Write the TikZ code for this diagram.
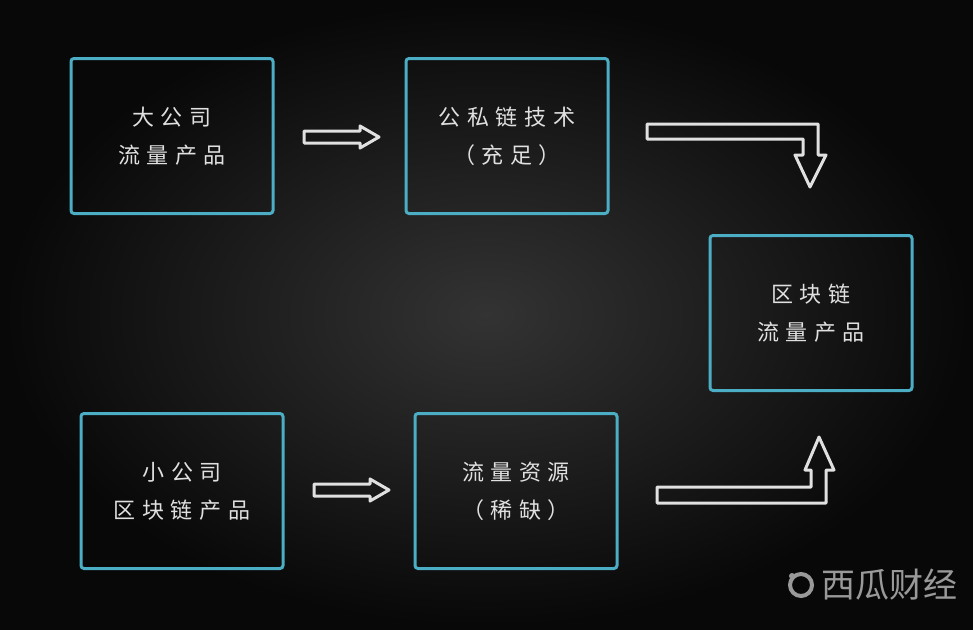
\documentclass[tikz,border=0pt]{standalone}
\usepackage{fontspec}
\newfontfamily\cjk[LetterSpace=30]{Noto Sans CJK SC}
\newfontfamily\cjkw{Noto Sans CJK SC}
\begin{document}
\begin{tikzpicture}[x=1pt,y=-1pt,
  box/.style={draw=boxc,line width=3pt,rounded corners=3pt,minimum width=202pt,minimum height=155pt,inner sep=0pt,
    text=white!88!black,font=\cjk\fontsize{22}{38}\selectfont,align=center},
  outl/.style={draw=white!88!black,line width=3pt,line join=round}]
\definecolor{boxc}{HTML}{4CAEC4}
\shade[inner color=black!80,outer color=black!97] (0,0) rectangle (973,629);
\useasboundingbox (0,0) rectangle (973,629);
\node[box] (a) at (172,136) {大公司\\流量产品};
\node[box] (b) at (507,136) {公私链技术\\（充足）};
\node[box] (c) at (811,313) {区块链\\流量产品};
\node[box] (d) at (182,491) {小公司\\区块链产品};
\node[box] (e) at (516,491) {流量资源\\（稀缺）};
% straight arrows
\draw[outl] (304,131)--(360,131)--(360,126)--(379,137)--(360,148)--(360,143)--(304,143)--cycle;
\draw[outl] (314,484)--(370,484)--(370,479)--(389,490)--(370,501)--(370,496)--(314,496)--cycle;
% bent arrows
\draw[outl] (647,124)--(818,124)--(818,155)--(826,155)--(810,187)--(795,155)--(803,155)--(803,139)--(647,139)--cycle;
\draw[outl] (657,503)--(826,503)--(826,470)--(834,470)--(819,437)--(805,470)--(811,470)--(811,487)--(657,487)--cycle;
% watermark
\draw[black!40,line width=4pt] (801,585) circle (11);
\fill[black!40] (792,576) circle (3);
\node[text=black!40,font=\cjkw\fontsize{34}{34}\selectfont,anchor=west,inner sep=0pt] (w) at (821,585) {西瓜财经};
\end{tikzpicture}
\end{document}
